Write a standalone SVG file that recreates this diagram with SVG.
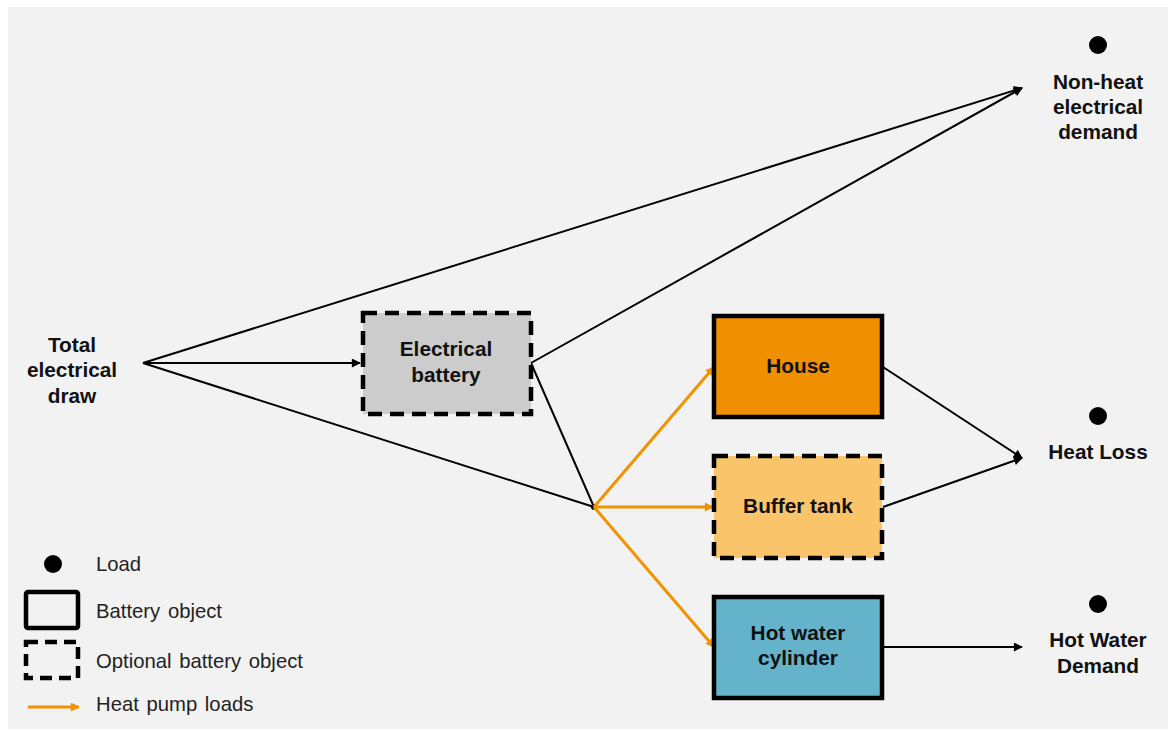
<svg xmlns="http://www.w3.org/2000/svg" width="1170" height="731" viewBox="0 0 1170 731">
<defs>
<style>
.lbl{font-family:"Liberation Sans",Arial,sans-serif;font-weight:bold;font-size:20.8px;fill:#111;text-anchor:middle}
.leg{font-family:"Liberation Sans",Arial,sans-serif;font-size:20.3px;fill:#222;word-spacing:2px}
.box{stroke:#000;stroke-width:4.5}
.dash{stroke-dasharray:14 8}
.ln{stroke:#000;stroke-width:2;fill:none}
.or{stroke:#f39200;stroke-width:3;fill:none}
</style>
<marker id="ab" viewBox="0 0 10 10" refX="9" refY="5" markerWidth="12" markerHeight="9" markerUnits="userSpaceOnUse" orient="auto"><path d="M0,0 L10,5 L0,10 z" fill="#000"/></marker>
<marker id="ao" viewBox="0 0 10 10" refX="9" refY="5" markerWidth="12" markerHeight="9" markerUnits="userSpaceOnUse" orient="auto"><path d="M0,0 L10,5 L0,10 z" fill="#f39200"/></marker>
</defs>
<rect x="0" y="0" width="1170" height="731" fill="#fff"/>
<rect x="8" y="7" width="1160" height="722" fill="#f2f2f2"/>

<g id="connectors">
<path class="ln" d="M143,363 L1022,88" marker-end="url(#ab)"/>
<path class="ln" d="M143,363 L360,363" marker-end="url(#ab)"/>
<path class="ln" d="M143,363 L594,507"/>
<path class="ln" d="M531,363 L1022,88" marker-end="url(#ab)"/>
<path class="ln" d="M531,363 L594,507"/>
<circle cx="594" cy="507" r="3" fill="#000"/>
<path class="or" d="M594,507 L714,367" marker-end="url(#ao)"/>
<path class="or" d="M594,507 L713,507" marker-end="url(#ao)"/>
<path class="or" d="M594,507 L714,647" marker-end="url(#ao)"/>
<path class="ln" d="M883,367 L1022,458" marker-end="url(#ab)"/>
<path class="ln" d="M883,507 L1022,458" marker-end="url(#ab)"/>
<path class="ln" d="M883,647 L1022,647" marker-end="url(#ab)"/>
</g>

<g id="total">
<text class="lbl" x="72" y="352">Total</text>
<text class="lbl" x="72" y="377">electrical</text>
<text class="lbl" x="72" y="403">draw</text>
</g>

<g id="battery">
<rect class="box dash" x="363" y="313" width="168" height="101" fill="#cccccc"/>
<text class="lbl" x="446" y="356">Electrical</text>
<text class="lbl" x="446" y="382">battery</text>
</g>

<g id="house">
<rect class="box" x="714" y="316" width="168" height="101" fill="#f09000"/>
<text class="lbl" x="798" y="373">House</text>
</g>

<g id="buffer">
<rect class="box dash" x="714" y="456" width="168" height="102" fill="#fac46b"/>
<text class="lbl" x="798" y="513">Buffer tank</text>
</g>

<g id="cylinder">
<rect class="box" x="714" y="597" width="168" height="101" fill="#65b3cb"/>
<text class="lbl" x="798" y="640">Hot water</text>
<text class="lbl" x="798" y="665">cylinder</text>
</g>

<g id="nonheat">
<circle cx="1098" cy="45" r="9" fill="#000"/>
<text class="lbl" x="1098" y="89">Non-heat</text>
<text class="lbl" x="1098" y="114">electrical</text>
<text class="lbl" x="1098" y="139">demand</text>
</g>

<g id="heatloss">
<circle cx="1098" cy="416" r="9" fill="#000"/>
<text class="lbl" x="1098" y="459">Heat Loss</text>
</g>

<g id="hotwater">
<circle cx="1098" cy="604" r="9" fill="#000"/>
<text class="lbl" x="1098" y="647">Hot Water</text>
<text class="lbl" x="1098" y="673">Demand</text>
</g>

<g id="legend">
<circle cx="53" cy="564" r="9" fill="#000"/>
<text class="leg" x="96" y="571">Load</text>
<rect x="26" y="592" width="52" height="36" fill="none" stroke="#000" stroke-width="4.5" rx="2"/>
<text class="leg" x="96" y="618">Battery object</text>
<rect x="26" y="642" width="52" height="36" fill="none" stroke="#000" stroke-width="4.5" stroke-dasharray="12 7"/>
<text class="leg" x="96" y="668">Optional battery object</text>
<path class="or" d="M28,707 L79,707" marker-end="url(#ao)"/>
<text class="leg" x="96" y="711">Heat pump loads</text>
</g>
</svg>
